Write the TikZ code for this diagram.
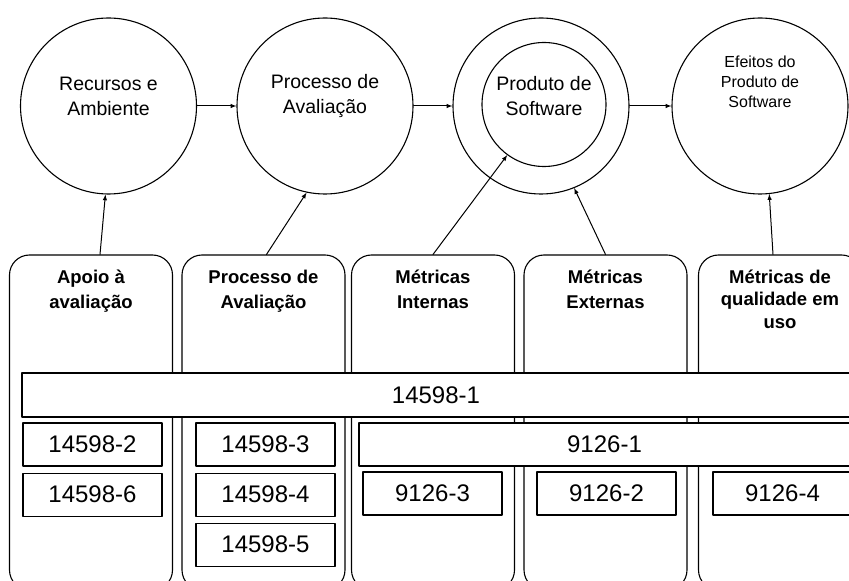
\documentclass[tikz,border=0pt]{standalone}
\usepackage{fontspec}
\setmainfont{Liberation Sans}
\usetikzlibrary{positioning}

\begin{document}
\begin{tikzpicture}[x=1pt,y=1pt,line cap=round,line join=round,>=latex,
  disc/.style={draw,circle,line width=1.1pt,minimum size=176pt,inner sep=0pt},
  disctext/.style={align=center,inner sep=0pt,font=\fontsize{19.5}{25}\selectfont},
  coluna/.style={draw,rounded corners=20pt,line width=1.1pt,minimum width=163pt,minimum height=335pt,inner sep=0pt},
  cabec/.style={align=center,inner sep=0pt,font=\fontsize{18.5}{25}\selectfont\bfseries},
  norma/.style={draw,fill=white,line width=1.1pt,minimum width=139pt,minimum height=43pt,inner sep=0pt,font=\fontsize{24}{28}\selectfont},
  seta/.style={->,line width=1pt}]
  \useasboundingbox (0,0) rectangle (849,581);
  \clip (0,0) rectangle (849,581);

  \node[disc] (rec) at (108.5,475) {};
  \node[disc] (proc) at (325,475) {};
  \node[disc] (prod) at (541,475) {};
  \node[disc,minimum size=124pt] (prodIn) at (544,476.5) {};
  \node[disc] (efe) at (760,475) {};
  \node[disctext] (recT) at ([yshift=10pt]rec.center) {Recursos e\\Ambiente};
  \node[disctext] (procT) at ([yshift=10pt]proc.center) {Processo de\\Avalia\c{c}\~ao};
  \node[disctext] (prodT) at ([yshift=8pt]prodIn.center) {Produto de\\Software};
  \node[disctext,font=\fontsize{16}{20}\selectfont] (efeT) at ([yshift=24pt]efe.center) {Efeitos do\\Produto de\\Software};

  \draw[seta] (rec) -- (proc);
  \draw[seta] (proc) -- (prod);
  \draw[seta] (prod) -- (efe);

  \node[coluna] (apoio) at (91,158.5) {};
  \node[coluna] (procA) at (263.5,158.5) {};
  \node[coluna] (interna) at (433,158.5) {};
  \node[coluna] (externa) at (605.5,158.5) {};
  \node[coluna] (uso) at (780,158.5) {};
  \node[cabec,below=15pt of apoio.north] (apoioT) {Apoio \`a\\avalia\c{c}\~ao};
  \node[cabec,below=15pt of procA.north] (procAT) {Processo de\\Avalia\c{c}\~ao};
  \node[cabec,below=15pt of interna.north] (internaT) {M\'etricas\\Internas};
  \node[cabec,below=15pt of externa.north] (externaT) {M\'etricas\\Externas};
  \node[cabec,font=\fontsize{18.5}{22.5}\selectfont\bfseries,below=15pt of uso.north] (usoT) {M\'etricas de\\qualidade em\\uso};

  \node[norma,minimum width=828pt,minimum height=44pt] (n1) at (436,186) {14598-1};
  \node[norma,minimum width=491pt] (m1) at (604.5,136.5) {9126-1};
  \node[norma] (n2) at (92.5,136.5) {14598-2};
  \node[norma,below=6pt of n2] (n6) {14598-6};
  \node[norma] (n3) at (265.5,136.5) {14598-3};
  \node[norma,below=6pt of n3] (n4) {14598-4};
  \node[norma,below=6pt of n4] (n5) {14598-5};
  \node[norma] (m3) at (432.5,87.5) {9126-3};
  \node[norma] (m2) at (606.5,87.5) {9126-2};
  \node[norma] (m4) at (782.5,87.5) {9126-4};

  \draw[seta] ([xshift=9pt]apoio.north) -- (rec.-92);
  \draw[seta] ([xshift=3pt]procA.north) -- (proc.-102);
  \draw[seta] (interna.north) -- (prodIn.-126);
  \draw[seta] (externa.north) -- (prod.-68);
  \draw[seta] ([xshift=-7pt]uso.north) -- (efe.-84);
\end{tikzpicture}
\end{document}
